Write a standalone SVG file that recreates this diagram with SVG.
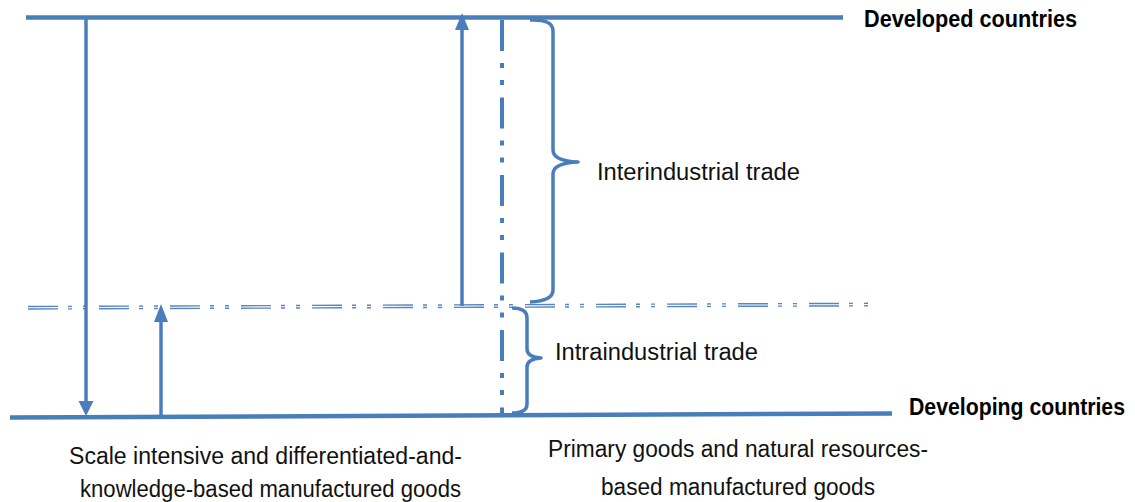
<svg xmlns="http://www.w3.org/2000/svg" width="1135" height="502" viewBox="0 0 1135 502">
<style>
.ln{stroke:#4a7ebb;fill:none;stroke-linecap:butt}
.main{stroke-width:4.5}
.arr{stroke-width:3.5}
.brace{stroke-width:3.5;stroke-linejoin:round}
.dbl{stroke:#5585c2;stroke-width:1.4;fill:none;stroke-dasharray:30 10 4 11 4 12}
.vdash{stroke:#4a7ebb;stroke-width:4;fill:none;stroke-dasharray:31 12 5 12 5 12.5}
.t{font-family:"Liberation Sans",Arial,sans-serif;font-size:23.5px;fill:#111}
.b{font-family:"Liberation Sans",Arial,sans-serif;font-size:23px;font-weight:bold;fill:#000}
.head{fill:#4a7ebb}
</style>
<g id="connectors">
<line id="developed-line" class="ln main" x1="26" y1="17.5" x2="843" y2="17.5"/>
<line id="developing-line" class="ln main" x1="10" y1="417.5" x2="892" y2="413.5"/>
<g id="threshold-line">
<line class="dbl" x1="28" y1="306.5" x2="872" y2="303.3"/>
<line class="dbl" x1="28" y1="309" x2="872" y2="305.8"/>
</g>
<line id="center-axis" class="vdash" x1="502" y1="20" x2="502" y2="416"/>
<g id="arrow-down-left">
<line class="ln arr" x1="86" y1="19" x2="86" y2="402"/>
<polygon class="head" points="78.5,401 93.5,401 86,416"/>
</g>
<g id="arrow-up-small">
<line class="ln arr" x1="161" y1="416" x2="161" y2="320"/>
<polygon class="head" points="154,322 168,322 161,304"/>
</g>
<g id="arrow-up-large">
<line class="ln arr" x1="462" y1="306" x2="462" y2="28"/>
<polygon class="head" points="455,30 469,30 462,13"/>
</g>
</g>
<g id="interindustrial">
<path class="ln brace" d="M530,20 Q553,19 553,31 L553,150 Q553,161 578,162 Q553,163 553,174 L553,290 Q553,301 530,302"/>
<text class="t" x="597" y="180" textLength="203" lengthAdjust="spacingAndGlyphs">Interindustrial trade</text>
</g>
<g id="intraindustrial">
<path class="ln brace" d="M512,308 Q527,308 527,318 L527,349 Q527,357 541,358 Q527,359 527,367 L527,404 Q527,413 512,413"/>
<text class="t" x="555" y="360" textLength="203" lengthAdjust="spacingAndGlyphs">Intraindustrial trade</text>
</g>
<g id="developed-label">
<text class="b" x="864" y="27" textLength="213" lengthAdjust="spacingAndGlyphs">Developed countries</text>
</g>
<g id="developing-label">
<text class="b" x="909" y="415" textLength="216" lengthAdjust="spacingAndGlyphs">Developing countries</text>
</g>
<g id="left-goods">
<text class="t" x="69" y="464" textLength="393" lengthAdjust="spacingAndGlyphs">Scale intensive and differentiated-and-</text>
<text class="t" x="80" y="497" textLength="381" lengthAdjust="spacingAndGlyphs">knowledge-based manufactured goods</text>
</g>
<g id="right-goods">
<text class="t" x="548" y="457" textLength="380" lengthAdjust="spacingAndGlyphs">Primary goods and natural resources-</text>
<text class="t" x="601" y="495" textLength="274" lengthAdjust="spacingAndGlyphs">based manufactured goods</text>
</g>
</svg>
